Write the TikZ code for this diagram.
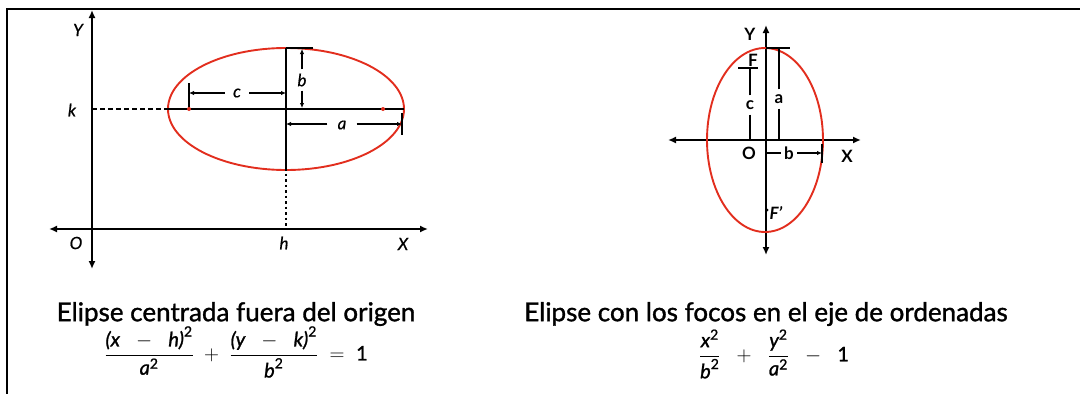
\documentclass[tikz,border=0pt]{standalone}
\usepackage{fontspec}
\usepackage{amsmath}
\setmainfont{Lato}
\newfontfamily\heavyfont[FakeBold=1.2]{Lato}
\newfontfamily\medfont[FakeBold=0.6]{Lato}
\usetikzlibrary{arrows.meta}
\definecolor{ered}{RGB}{226,46,30}
\newcommand{\sq}{^{\text{2}}}
\begin{document}
\begin{tikzpicture}[x=1pt,y=-1pt,
  axis/.style={line width=2.4pt,{Latex[length=8pt,width=7pt]}-{Latex[length=8pt,width=7pt]}},
  ell/.style={draw=ered,line width=1.9pt},
  thick line/.style={line width=2pt},
  dim/.style={line width=1.6pt},
  dimarr/.style={line width=1.6pt,-{Latex[length=5pt,width=4.5pt]}},
  lab/.style={font=\fontsize{17}{17}\selectfont\medfont\itshape,inner sep=0pt},
  blab/.style={font=\fontsize{17}{17}\selectfont\bfseries,inner sep=0pt},
  title/.style={font=\fontsize{26}{28}\selectfont\heavyfont,inner sep=0pt},
  formula/.style={font=\fontsize{20}{22}\selectfont\heavyfont,inner sep=0pt},
  focus/.style={fill=ered,draw=none}
]
\useasboundingbox (0,0) rectangle (1080,394);
% frame
\coordinate (fr1) at (1080,9);
\coordinate (fr2) at (7,9);
\coordinate (fr3) at (7,394);
\draw[line width=1.3pt] (fr1) -- (fr2) -- (fr3);

% ---------- left diagram ----------
\coordinate (LYt) at (92,10);
\coordinate (LYb) at (92,269);
\coordinate (LXl) at (49,229);
\coordinate (LXr) at (428,229);
\draw[axis] (LYb) -- (LYt);
\draw[axis] (LXl) -- (LXr);
\coordinate (C1) at (286,109);
\draw[ell] (C1) ellipse [x radius=118pt, y radius=61pt];
\coordinate (kY) at (92,109);
\coordinate (Eleft) at (168,109);
\coordinate (Eright) at (404,109);
\coordinate (Etop) at (286,48);
\coordinate (Ebot) at (286,168);
\coordinate (hX) at (286,229);
\coordinate (tickR) at (313,48);
\draw[dim,line width=1.8pt,dash pattern=on 5pt off 3pt] (kY) -- (Eleft);
\draw[thick line] (Eleft) -- (Eright);
\draw[thick line] (Etop) -- (Ebot);
\draw[thick line] (Etop) -- (tickR);
\draw[line width=2pt,dash pattern=on 2.5pt off 3pt] (Ebot) -- (hX);
% c
\coordinate (cbt) at (189,83);
\coordinate (cbb) at (189,108);
\draw[dim] (cbt) -- (cbb);
\node[lab] (lc) at (237,93) {c};
\coordinate (cL) at (189,93);
\coordinate (cR) at (286,93);
\draw[dimarr] (lc.west) ++(-8,0) -- (cL);
\draw[dimarr] (lc.east) ++(8,0) -- (cR);
% b
\node[lab] (lb) at (302,80) {b};
\coordinate (bT) at (302,49);
\coordinate (bB) at (302,108);
\draw[dimarr] (lb.north) ++(0,-4) -- (bT);
\draw[dimarr] (lb.south) ++(0,4) -- (bB);
% a
\node[lab] (la) at (342,125) {a};
\coordinate (aL) at (286,124);
\coordinate (aR) at (402,124);
\draw[dimarr] (la.west) ++(-10,-1) -- (aL);
\draw[dimarr] (la.east) ++(10,-1) -- (aR);
\coordinate (abt) at (402,113);
\coordinate (abb) at (402,135);
\draw[dim] (abt) -- (abb);
% foci
\fill[focus] (189,109) circle (2pt);
\fill[focus] (383,109) circle (2pt);
% labels
\node[lab] (lY) at (78,30) {Y};
\node[lab] (lk) at (72,110) {k};
\node[lab] (lO) at (76,243) {O};
\node[lab] (lh) at (284,243) {h};
\node[lab] (lX) at (403,244) {X};

% ---------- right diagram ----------
\coordinate (RYt) at (766,25);
\coordinate (RYb) at (766,255);
\coordinate (RXl) at (668,140);
\coordinate (RXr) at (861,140);
\draw[axis] (RYb) -- (RYt);
\draw[axis] (RXl) -- (RXr);
\coordinate (C2) at (765,140);
\draw[ell] (C2) ellipse [x radius=58pt, y radius=92pt];
\coordinate (rtT1) at (766,48);
\coordinate (rtT2) at (790,48);
\draw[thick line] (rtT1) -- (rtT2);
\node[blab] (ra) at (779,99) {a};
\coordinate (raT) at (779,48);
\coordinate (raB) at (779,140);
\draw[dim] (ra.north) ++(0,-5) -- (raT);
\draw[dim] (ra.south) ++(0,5) -- (raB);
\coordinate (rF1) at (738,68);
\coordinate (rF2) at (758,68);
\draw[dim] (rF1) -- (rF2);
\node[blab] (rc) at (750,105) {c};
\coordinate (rcT) at (750,68);
\coordinate (rcB) at (750,140);
\draw[dim] (rc.north) ++(0,-5) -- (rcT);
\draw[dim] (rc.south) ++(0,5) -- (rcB);
\node[blab] (rb) at (789,153) {b};
\coordinate (rbL) at (766,153);
\coordinate (rbR) at (822,153);
\draw[dim] (rb.west) ++(-3,0) -- (rbL);
\draw[dimarr] (rb.east) ++(3,0) -- (rbR);
\coordinate (rbt) at (822,144);
\coordinate (rbb) at (822,163);
\draw[dim] (rbt) -- (rbb);
\node[blab] (rY) at (750,34) {Y};
\node[blab] (rF) at (753,60) {F};
\node[blab] (rO) at (749,153) {O};
\node[blab] (rX) at (847,156) {X};
\node[blab,font=\fontsize{17}{17}\selectfont\bfseries\itshape] (rFp) at (776,213) {F'};
\fill (767,210) circle (1.5pt);

% ---------- captions ----------
\node[title] (t1) at (236,314) {Elipse centrada fuera del origen};
\node[formula] (f1) at (236,352) {$\dfrac{\textit{(x}\;\;-\;\;\textit{h)}\sq}{\textit{a}\sq}\;+\;\dfrac{\textit{(y}\;\;-\;\;\textit{k)}\sq}{\textit{b}\sq}\;=\;\text{1}$};
\node[title] (t2) at (766,314) {Elipse con los focos en el eje de ordenadas};
\node[formula] (f2) at (774,354) {$\dfrac{\textit{x}\sq}{\textit{b}\sq}\;\;+\;\;\dfrac{\textit{y}\sq}{\textit{a}\sq}\;\;-\;\;\text{1}$};
\end{tikzpicture}
\end{document}
